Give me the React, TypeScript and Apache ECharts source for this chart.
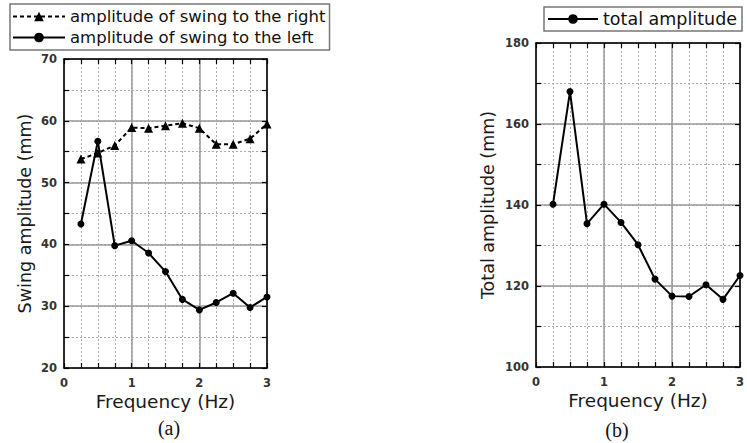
import React, { useEffect, useRef } from "react";
import * as echarts from "echarts";

const freq = [0.25, 0.5, 0.75, 1.0, 1.25, 1.5, 1.75, 2.0, 2.25, 2.5, 2.75, 3.0];
const swingRight = [53.8, 54.8, 56.0, 58.9, 58.8, 59.2, 59.6, 58.8, 56.2, 56.2, 57.1, 59.5];
const swingLeft = [43.3, 56.7, 39.8, 40.6, 38.6, 35.6, 31.1, 29.4, 30.6, 32.1, 29.8, 31.5];
const totalAmp = [140.2, 168.0, 135.4, 140.2, 135.7, 130.2, 121.7, 117.5, 117.4, 120.3, 116.7, 122.6];

const nameRight = "amplitude of swing to the right";
const nameLeft = "amplitude of swing to the left";
const nameTotal = "total amplitude";

const SANS = "DejaVu Sans";
const pairs = (ys: number[]) => freq.map((x, i) => [x, ys[i]]);

const tickLabel = { fontFamily: SANS, fontSize: 11.5, fontWeight: "bold" as const, color: "#333" };

function xAxes(gridIndex: number) {
  return [
    {
      gridIndex, type: "value", min: 0, max: 3, interval: 0.25, position: "bottom",
      axisLine: { show: true, onZero: false, lineStyle: { color: "#000", width: 1.5 } },
      axisTick: { show: true, inside: true, length: 5, lineStyle: { color: "#000", width: 1.2 } },
      axisLabel: { show: false },
      splitLine: { show: true, lineStyle: { color: "#aaa", width: 1, type: [2, 2] } },
      name: "Frequency (Hz)", nameLocation: "middle", nameGap: 24,
      nameTextStyle: { fontFamily: SANS, fontSize: 18.5, color: "#1a1a1a", verticalAlign: "top" },
    },
    {
      gridIndex, type: "value", min: 0, max: 3, interval: 1, position: "bottom",
      axisLine: { show: false, onZero: false }, axisTick: { show: false },
      axisLabel: { show: true, margin: 9, ...tickLabel },
      splitLine: { show: true, lineStyle: { color: "#999", width: 1.5 } },
    },
    {
      gridIndex, type: "value", min: 0, max: 3, interval: 0.25, position: "top",
      axisLine: { show: true, onZero: false, lineStyle: { color: "#000", width: 1.5 } },
      axisTick: { show: true, inside: true, length: 5, lineStyle: { color: "#000", width: 1.2 } },
      axisLabel: { show: false }, splitLine: { show: false },
    },
  ];
}

function yAxes(gridIndex: number, min: number, max: number, minor: number, major: number, name: string, gap: number) {
  return [
    {
      gridIndex, type: "value", min, max, interval: minor, position: "left",
      axisLine: { show: true, onZero: false, lineStyle: { color: "#000", width: 1.5 } },
      axisTick: { show: true, inside: true, length: 5, lineStyle: { color: "#000", width: 1.2 } },
      axisLabel: { show: false },
      splitLine: { show: true, lineStyle: { color: "#aaa", width: 1, type: [2, 2] } },
      name, nameLocation: "middle", nameGap: gap, nameRotate: 90,
      nameTextStyle: { fontFamily: SANS, fontSize: 17.5, color: "#1a1a1a" },
    },
    {
      gridIndex, type: "value", min, max, interval: major, position: "left",
      axisLine: { show: false, onZero: false }, axisTick: { show: false },
      axisLabel: { show: true, margin: 7, ...tickLabel },
      splitLine: { show: true, lineStyle: { color: "#999", width: 1.5 } },
    },
    {
      gridIndex, type: "value", min, max, interval: minor, position: "right",
      axisLine: { show: true, onZero: false, lineStyle: { color: "#000", width: 1.5 } },
      axisTick: { show: true, inside: true, length: 5, lineStyle: { color: "#000", width: 1.2 } },
      axisLabel: { show: false }, splitLine: { show: false },
    },
  ];
}

export default function App() {
  const ref = useRef<HTMLDivElement>(null);
  useEffect(() => {
    if (!ref.current) return;
    const chart = echarts.init(ref.current, null, { renderer: "svg" });
    const legendText = { fontFamily: SANS, fontSize: 16.5, color: "#111", lineHeight: 17 };
    chart.setOption({
      animation: false,
      backgroundColor: "#fff",
      grid: [
        { left: 64, top: 59, width: 203, height: 309, containLabel: false },
        { left: 536, top: 43, width: 210, height: 324, containLabel: false },
      ],
      legend: [
        {
          data: [nameRight, nameLeft], orient: "vertical", left: 10, top: 4,
          itemWidth: 52, itemHeight: 12, itemGap: 4, padding: [4, 4, 4, 2],
          borderColor: "#777", borderWidth: 1.5, textStyle: legendText, selectedMode: false,
        },
        {
          data: [nameTotal], orient: "vertical", left: 544, top: 7,
          itemWidth: 50, itemHeight: 12, padding: [3, 5, 3, 3],
          borderColor: "#777", borderWidth: 1.5, textStyle: { ...legendText, fontSize: 17.5 }, selectedMode: false,
        },
      ],
      xAxis: [...xAxes(0), ...xAxes(1)],
      yAxis: [
        ...yAxes(0, 20, 70, 5, 10, "Swing amplitude (mm)", 30),
        ...yAxes(1, 100, 180, 10, 20, "Total amplitude (mm)", 39),
      ],
      series: [
        {
          name: nameRight, type: "line", xAxisIndex: 0, yAxisIndex: 0, data: pairs(swingRight),
          symbol: "triangle", symbolSize: 9,
          lineStyle: { color: "#000", width: 2, type: [4, 3] }, itemStyle: { color: "#000" },
        },
        {
          name: nameLeft, type: "line", xAxisIndex: 0, yAxisIndex: 0, data: pairs(swingLeft),
          symbol: "circle", symbolSize: 7,
          lineStyle: { color: "#000", width: 2 }, itemStyle: { color: "#000" },
        },
        {
          name: nameTotal, type: "line", xAxisIndex: 3, yAxisIndex: 3, data: pairs(totalAmp),
          symbol: "circle", symbolSize: 7,
          lineStyle: { color: "#000", width: 2 }, itemStyle: { color: "#000" },
        },
      ],
      graphic: [
        {
          type: "text", x: 169, y: 428,
          style: { text: "(a)", fontFamily: "Liberation Serif", fontSize: 20, fill: "#111", align: "center", verticalAlign: "middle" },
        },
        {
          type: "text", x: 617, y: 430,
          style: { text: "(b)", fontFamily: "Liberation Serif", fontSize: 20, fill: "#111", align: "center", verticalAlign: "middle" },
        },
      ],
    });
    return () => chart.dispose();
  }, []);
  return (
    <div
      ref={ref}
      style={{ position: "fixed", left: 0, top: 0, width: 747, height: 443 }}
    />
  );
}
